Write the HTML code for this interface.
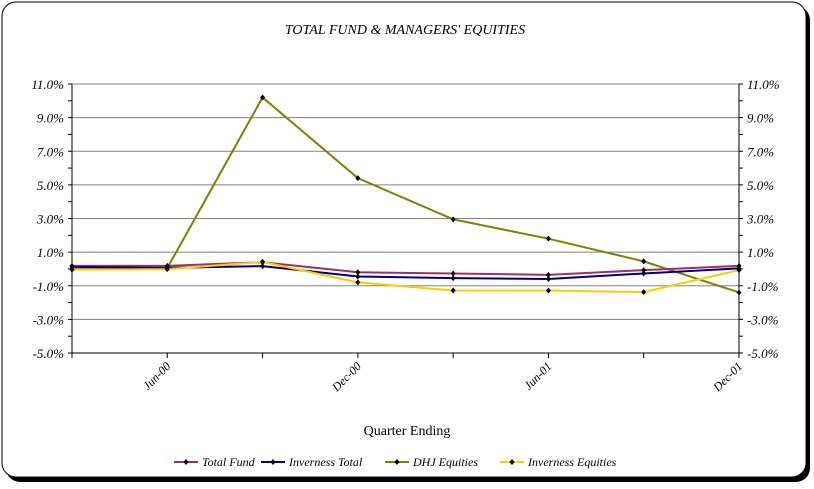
<!DOCTYPE html>
<html><head><meta charset="utf-8"><style>
body{margin:0;width:814px;height:484px;background:#fff;overflow:hidden;font-family:"Liberation Serif",serif}
svg text{font-family:"Liberation Serif",serif;font-style:italic;fill:#000}
</style></head><body>
<svg id="c" width="814" height="484">
<rect x="6" y="6" width="804" height="476" rx="14" fill="#000"/>
<rect x="2" y="2" width="804" height="475" rx="14" fill="#fff" stroke="#000" stroke-width="1"/>
<text x="405" y="34" text-anchor="middle" font-size="14">TOTAL FUND &amp; MANAGERS' EQUITIES</text>
<text x="407" y="435" text-anchor="middle" font-size="14" style="font-style:normal">Quarter Ending</text>
<g id="grid"></g><g id="axes"></g><g id="series"></g><g id="legend"></g>
</svg>
<script>
const categories=["Mar-00","Jun-00","Sep-00","Dec-00","Mar-01","Jun-01","Sep-01","Dec-01"];
const shownLabels=["","Jun-00","","Dec-00","","Jun-01","","Dec-01"];
const yTicks=[11,9,7,5,3,1,-1,-3,-5];
const yTickLabels=["11.0%","9.0%","7.0%","5.0%","3.0%","1.0%","-1.0%","-3.0%","-5.0%"];
const seriesNames=["Total Fund","Inverness Total","DHJ Equities","Inverness Equities"];
const totalFund=[0.18,0.18,0.4,-0.2,-0.27,-0.35,-0.07,0.18];
const invernessTotal=[0.12,0.06,0.17,-0.45,-0.55,-0.6,-0.27,0.03];
const dhjEquities=[0.0,0.05,10.2,5.4,2.95,1.8,0.45,-1.4];
const invernessEquities=[-0.04,-0.01,0.42,-0.8,-1.28,-1.28,-1.38,-0.07];
const colors=["#993366","#000080","#808000","#ffcc00"];
const NS="http://www.w3.org/2000/svg";
const L=72,R=739,T=84,B=353,ymin=-5,ymax=11;
const x=i=>L+(R-L)*i/(categories.length-1);
const y=v=>B-(v-ymin)/(ymax-ymin)*(B-T);
function mk(tag,attrs,parent){const e=document.createElementNS(NS,tag);for(const k in attrs)e.setAttribute(k,attrs[k]);parent.appendChild(e);return e;}
const g=document.getElementById('grid'),a=document.getElementById('axes'),s=document.getElementById('series'),lg=document.getElementById('legend');
yTicks.forEach((v,i)=>{
 const ln=mk('line',{x1:L,x2:R,y1:y(v),y2:y(v),stroke:'#808080','stroke-width':1},g);
 
 
 const t1=mk('text',{x:L-8,y:y(v)+5,'text-anchor':'end','font-size':13},a);t1.textContent=yTickLabels[i];
 
 
 const t2=mk('text',{x:R+8,y:y(v)+5,'text-anchor':'start','font-size':13},a);t2.textContent=yTickLabels[i];
 
 
});
for(let v=ymin;v<=ymax;v++){mk('line',{x1:L-4,x2:L,y1:y(v),y2:y(v),stroke:'#000'},a);mk('line',{x1:R,x2:R+4,y1:y(v),y2:y(v),stroke:'#000'},a);}
const la=mk('line',{x1:L,x2:L,y1:T,y2:B,stroke:'#000'},a);
const ra=mk('line',{x1:R,x2:R,y1:T,y2:B,stroke:'#000'},a);
const xa=mk('line',{x1:L,x2:R,y1:B,y2:B,stroke:'#000'},a);
categories.forEach((c,i)=>{
 mk('line',{x1:x(i),x2:x(i),y1:B,y2:B+5,stroke:'#000'},a);
 if(shownLabels[i]){const t=mk('text',{x:x(i)+4,y:B+14,'text-anchor':'end','font-size':12,transform:`rotate(-45 ${x(i)+4} ${B+14})`},a);t.textContent=shownLabels[i];
 
 }
});
function marker(cx,cy,p){mk('path',{d:`M${cx} ${cy-3}L${cx+2.5} ${cy}L${cx} ${cy+3}L${cx-2.5} ${cy}Z`,fill:'#000'},p);}
const all=[totalFund,invernessTotal,dhjEquities,invernessEquities];
const order=[2,0,1,3];
order.forEach(k=>{
 const d=all[k];
 const grp=mk('g',{},s);
 
 
 mk('polyline',{points:d.map((v,i)=>x(i)+','+y(v)).join(' '),fill:'none',stroke:colors[k],'stroke-width':2},grp);
 d.forEach((v,i)=>marker(x(i),y(v),grp));
});
const lx=[174,261,385,500];
seriesNames.forEach((n,k)=>{
 const grp=mk('g',{},lg);
 
 
 mk('line',{x1:lx[k],x2:lx[k]+24,y1:462,y2:462,stroke:colors[k],'stroke-width':2},grp);
 marker(lx[k]+12,462,grp);
 const t=mk('text',{x:lx[k]+28,y:466,'font-size':12},grp);t.textContent=n;
});
</script>
</body></html>
